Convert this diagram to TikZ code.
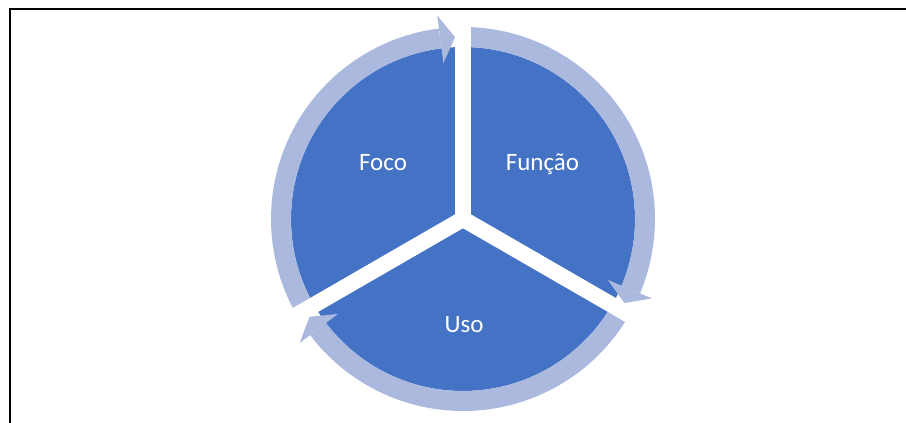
\documentclass[tikz,border=0pt]{standalone}
\usepackage{fontspec}
\setmainfont{Carlito}
\usetikzlibrary{calc}
\definecolor{pieblue}{RGB}{68,114,196}
\definecolor{ringblue}{RGB}{172,185,222}
\tikzset{
  ringarc/.style={draw=ringblue, line width=20pt, line cap=butt},
  headtri/.style={fill=ringblue, draw=none},
  gapline/.style={draw=white, line width=16pt, line cap=butt},
  lbl/.style={text=white, font=\fontsize{25}{30}\selectfont, anchor=base, inner sep=0pt},
  frameline/.style={draw=black, line width=2pt}
}
\begin{document}
\begin{tikzpicture}[x=1pt,y=1pt]
\useasboundingbox (0,0) rectangle (906,423);
\coordinate (C) at (463,204);
% frame (top and left edges)
\coordinate (fbl) at (9.5,0);
\coordinate (ftl) at (9.5,413.5);
\coordinate (ftr) at (906,413.5);
\draw[frameline] (fbl) -- (ftl) -- (ftr);
% pie
\fill[pieblue] (C) circle[radius=172];
% ring arrows
\draw[ringarc] ($(C)+(210:182)$) arc[start angle=210, end angle=97.2, radius=182];
\fill[headtri] ($(C)+(97.2:157)$) -- ($(C)+(97.2:205)$) -- ($(C)+(92.5:182)$) -- cycle;
\draw[ringarc] ($(C)+(90:182)$) arc[start angle=90, end angle=-22.8, radius=182];
\fill[headtri] ($(C)+(-22.8:157)$) -- ($(C)+(-22.8:205)$) -- ($(C)+(-27.5:182)$) -- cycle;
\draw[ringarc] ($(C)+(-30:182)$) arc[start angle=-30, end angle=-142.8, radius=182];
\fill[headtri] ($(C)+(-142.8:157)$) -- ($(C)+(-142.8:205)$) -- ($(C)+(-147.5:182)$) -- cycle;
% gaps
\coordinate (g1) at ($(C)+(90:196)$);
\coordinate (g2) at ($(C)+(210:196)$);
\coordinate (g3) at ($(C)+(330:196)$);
\draw[gapline] (C) -- (g1);
\draw[gapline] (C) -- (g2);
\draw[gapline] (C) -- (g3);
% labels
\node[lbl] (foco) at (383,252) {Foco};
\node[lbl] (funcao) at (542.5,252) {Função};
\node[lbl] (uso) at (464,90) {Uso};
\end{tikzpicture}
\end{document}
